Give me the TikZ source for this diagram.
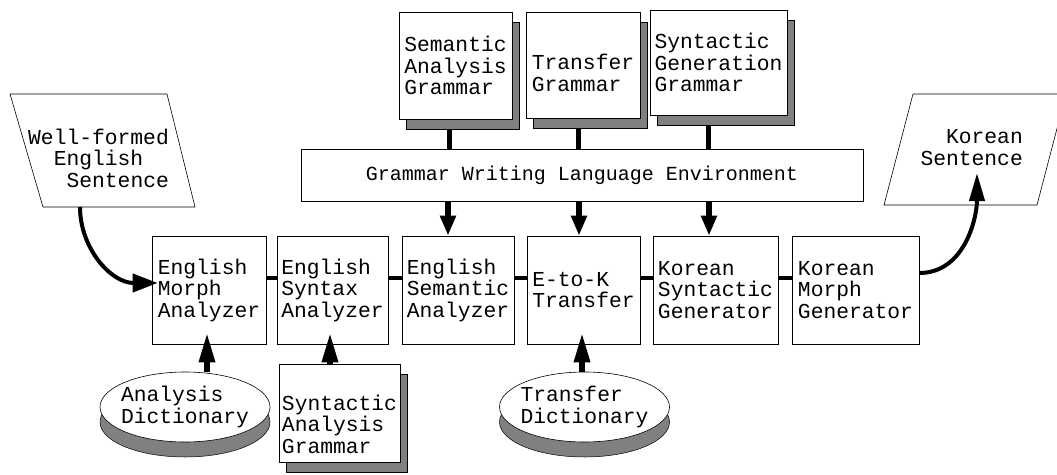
\documentclass[tikz,border=0pt]{standalone}
\usepackage{fontspec}
\setmonofont{Liberation Mono}
\usetikzlibrary{arrows.meta,shapes.geometric,shadows,backgrounds}
\begin{document}
\begin{tikzpicture}[x=1pt,y=-1pt,
  font=\ttfamily\fontsize{21.3}{21.5}\selectfont,
  box/.style={draw, line width=0.6pt, fill=white, align=left, inner sep=3pt, minimum height=108pt},
  shadowed/.style={drop shadow={shadow xshift=7pt, shadow yshift=-10pt, fill=black!50, draw=black, line width=0.5pt, opacity=1}},
  disk/.style={draw, ellipse, fill=white, line width=0.6pt, minimum width=170pt, minimum height=70pt, align=left, inner xsep=-5pt, inner ysep=0pt,
    drop shadow={shadow xshift=0pt, shadow yshift=-15pt, fill=black!50, draw=black, line width=0.5pt, opacity=1}},
  link/.style={line width=4pt},
  gwlink/.style={line width=5pt},
  feed/.style={line width=6pt, -{Triangle[length=20pt,width=15pt]}},
  uparrow/.style={line width=6pt, -{Triangle[length=30pt,width=15pt]}, shorten >=-12pt},
  flow/.style={line width=4pt, -{Triangle[length=25pt,width=18pt]}},
  para/.style={draw, line width=0.6pt},
]
\useasboundingbox (0,0) rectangle (1057,474);

% input / output sentences
\draw[para] (10,94) -- (167,94) -- (195,207) -- (43,207) -- cycle;
\node[align=left, anchor=west, inner sep=0pt] (es) at (28,158) {Well-formed\\\hspace*{25.6pt}English\\\hspace*{38.4pt}Sentence};
\draw[para] (913,94) -- (1066,94) -- (1037,205) -- (884,205) -- cycle;
\node[align=right, anchor=east, inner sep=0pt] (ks) at (1023,147.5) {Korean\\Sentence};
\coordinate (esb) at (80,207);
\coordinate (ktip) at (977,173);

% grammars on top
\node[box, shadowed, minimum width=113pt, minimum height=107pt] (sag) at (455.5,65.5) {Semantic\\Analysis\\Grammar};
\node[box, shadowed, minimum width=114pt, minimum height=106pt] (tg) at (583,65) {\rule{0pt}{31pt}Transfer\\Grammar};
\node[box, shadowed, minimum width=137pt, minimum height=105pt] (sgg) at (718.5,62.5) {Syntactic\\Generation\\Grammar};

\node[box, minimum width=562pt, minimum height=52pt, font=\ttfamily\fontsize{20}{20}\selectfont, align=center] (gwle) at (582,175) {Grammar Writing Language Environment};

% main pipeline
\node[box, minimum width=114pt] (morph) at (209,290) {English\\Morph\\Analyzer};
\node[box, minimum width=111pt] (syn) at (332.5,290) {English\\Syntax\\Analyzer};
\node[box, minimum width=112pt] (sem) at (458,290) {English\\Semantic\\Analyzer};
\node[box, minimum width=113pt] (etok) at (583.5,290) {E-to-K\\Transfer};
\node[box, minimum width=125pt] (ksyn) at (715.5,290) {Korean\\Syntactic\\Generator};
\node[box, minimum width=127pt] (kmorph) at (855.5,290) {Korean\\Morph\\Generator};

% bottom resources
\node[disk] (adict) at (185,407) {Analysis\\Dictionary};
\node[disk] (tdict) at (584.5,407) {Transfer\\Dictionary};
\node[box, shadowed, minimum width=121pt, minimum height=98pt] (synag) at (339.5,413) {\rule{0pt}{38pt}Syntactic\\Analysis\\Grammar};

% connectors
\begin{scope}[on background layer]
\draw[gwlink] ([xshift=-6.5pt]sag.south) -- ([xshift=-6.5pt]sag.south |- gwle.north);
\draw[gwlink] ([xshift=-5pt]tg.south) -- ([xshift=-5pt]tg.south |- gwle.north);
\draw[gwlink] ([xshift=-10.5pt]sgg.south) -- ([xshift=-10.5pt]sgg.south |- gwle.north);
\end{scope}

\foreach \a/\b in {morph/syn, syn/sem, sem/etok, etok/ksyn, ksyn/kmorph}
  \draw[link] ([yshift=12pt]\a.east) -- ([yshift=12pt]\b.west);

\draw[feed] ([xshift=-10pt]sem.north |- gwle.south) -- ([xshift=-10pt]sem.north);
\draw[feed] ([xshift=-4.5pt]etok.north |- gwle.south) -- ([xshift=-4.5pt]etok.north);
\draw[feed] ([xshift=-6.5pt]ksyn.north |- gwle.south) -- ([xshift=-6.5pt]ksyn.north);

\draw[uparrow] ([xshift=-2pt]morph.south |- adict.north) -- ([xshift=-2pt]morph.south);
\draw[uparrow] ([xshift=-2.5pt]syn.south |- synag.north) -- ([xshift=-2.5pt]syn.south);
\draw[uparrow] ([xshift=-1.5pt]etok.south |- tdict.north) -- ([xshift=-1.5pt]etok.south);

\draw[flow, shorten >=-6pt] (esb) to[out=-90,in=180] ([yshift=7pt]morph.west);
\draw[flow, -{Triangle[length=28pt,width=15pt]}] ([yshift=17pt]kmorph.east) to[out=0,in=-90] (ktip);
\end{tikzpicture}
\end{document}
